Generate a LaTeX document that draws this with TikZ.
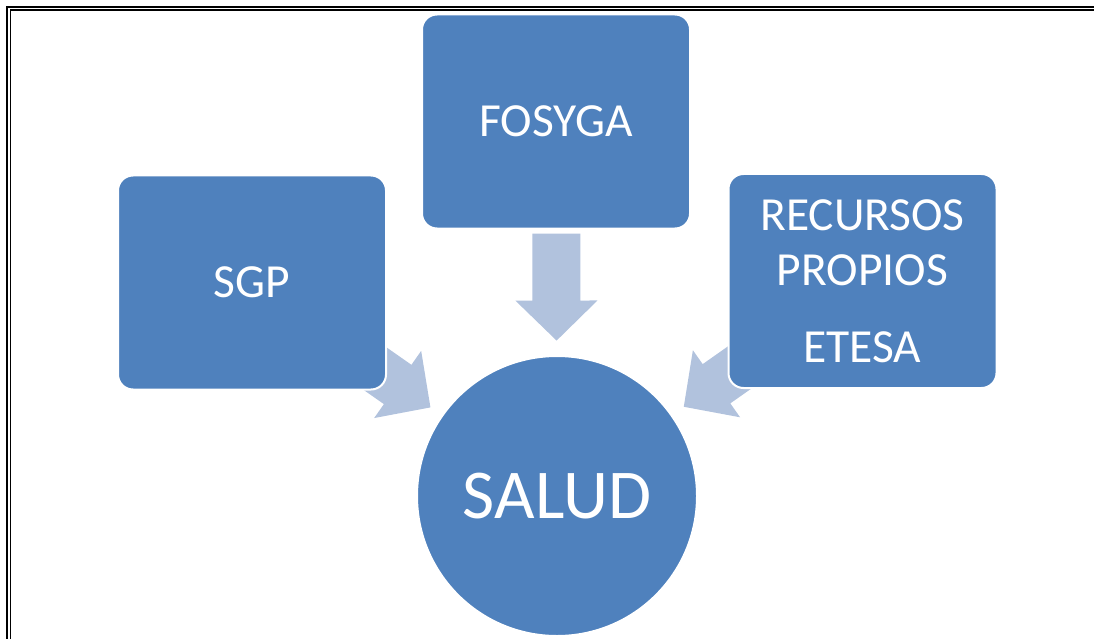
\documentclass[tikz,border=0pt]{standalone}
\usepackage{fontspec}
\setmainfont{Carlito}
\usetikzlibrary{calc,backgrounds}
\definecolor{boxblue}{HTML}{4F81BD}
\definecolor{arrowblue}{HTML}{B1C2DD}

\begin{document}
\begin{tikzpicture}[x=1pt,y=-1pt,
  fund/.style={rectangle, rounded corners=15pt, fill=boxblue, draw=white, line width=2pt,
    minimum width=268pt, minimum height=214pt, text=white,
    font=\fontsize{47.5}{55}\selectfont, align=center},
  blockarrow/.pic={\fill[arrowblue] (-107,-24) -- (-40,-24) -- (-40,-41) -- (0,0)
    -- (-40,41) -- (-40,24) -- (-107,24) -- cycle;}]
  \useasboundingbox (0,0) rectangle (1094,639);
  \draw[line width=2.2pt] (7,639) -- (7,7) -- (1094,7);
  \draw[line width=1.6pt] (10.3,639) -- (10.3,10.3) -- (1094,10.3);

  \node[fund] (sgp) at (252,282.5) {SGP};
  \node[fund] (fosyga) at (556,121.5) {FOSYGA};
  \node[fund] (recursos) at (862.5,281) {RECURSOS\\PROPIOS\\[22pt]ETESA};
  \node[circle, fill=boxblue, draw=white, line width=2pt, minimum size=280pt, text=white,
    font=\fontsize{70}{80}\selectfont] (salud) at (557,496) {SALUD};

  \begin{scope}[on background layer]
    \foreach \src in {sgp,fosyga,recursos}
      \path let \p1=($(salud)-(\src)$), \n1={atan2(\y1,\x1)} in
        ($(\src)!0.585!(salud)$) pic[rotate=\n1] {blockarrow};
  \end{scope}
\end{tikzpicture}
\end{document}
